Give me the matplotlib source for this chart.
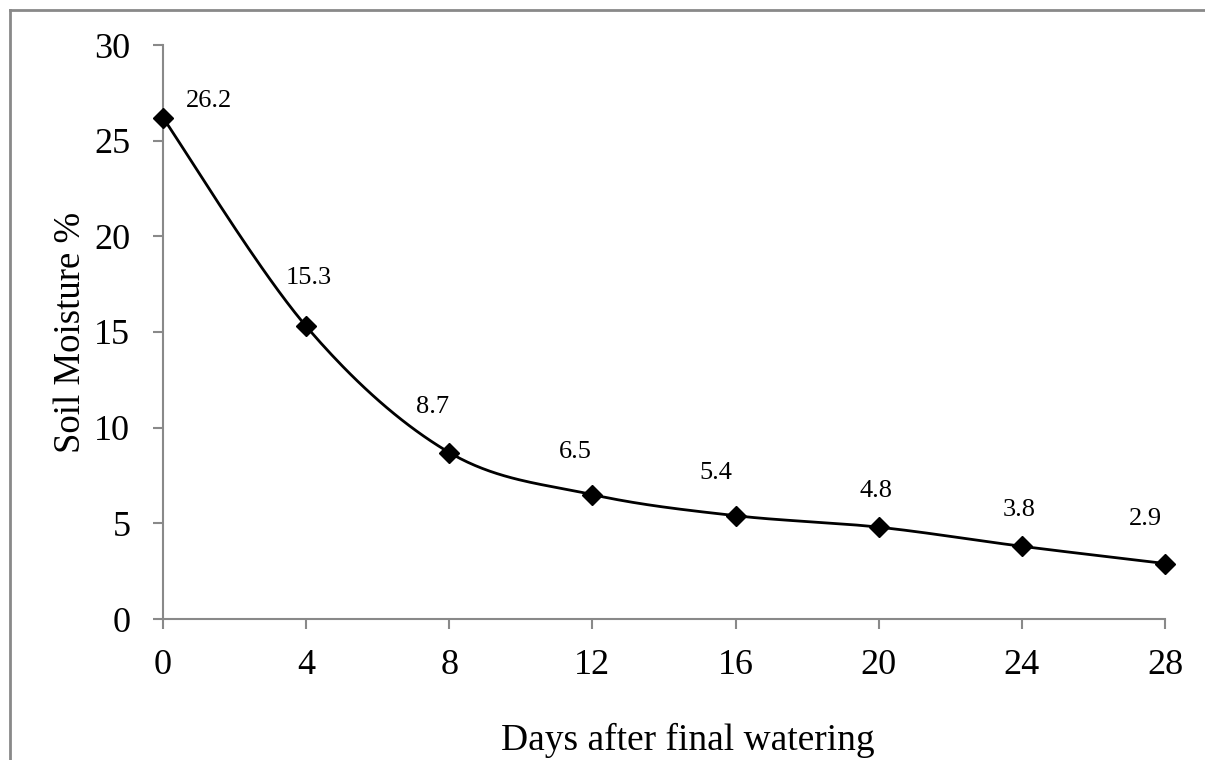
import numpy as np
import matplotlib.pyplot as plt
from matplotlib.lines import Line2D

plt.rcParams['font.family'] = ['Liberation Serif', 'DejaVu Serif']

days = [0, 4, 8, 12, 16, 20, 24, 28]
moisture = [26.2, 15.3, 8.7, 6.5, 5.4, 4.8, 3.8, 2.9]
value_labels = ["26.2", "15.3", "8.7", "6.5", "5.4", "4.8", "3.8", "2.9"]
x_ticks = [0, 4, 8, 12, 16, 20, 24, 28]
y_ticks = [0, 5, 10, 15, 20, 25, 30]

# label offsets in points (dx, dy) from each marker
label_off = [(33, 12), (2, 35), (-12, 33), (-12, 31), (-14, 31), (-2, 26), (-2, 26), (-14, 32)]

fig = plt.figure(figsize=(12.05, 7.6), dpi=100)
ax = fig.add_axes([163/1205, 141/760, 1002/1205, 574/760])

# excel style smoothed line (bezier, control points from neighbours / 6)
sx = 1002/28.0
sy = 574/30.0
P = np.column_stack([np.array(days)*sx, np.array(moisture)*sy])
n = len(P)
curve = []
t = np.linspace(0, 1, 40)
for i in range(n-1):
    p0 = P[i]
    p3 = P[i+1]
    prev = P[i-1] if i > 0 else P[i]
    nxt = P[i+2] if i+2 < n else P[i+1]
    c1 = p0 + (p3 - prev)/6.0
    c2 = p3 - (nxt - p0)/6.0
    seg = ((1-t)**3)[:, None]*p0 + (3*(1-t)**2*t)[:, None]*c1 + (3*(1-t)*t**2)[:, None]*c2 + (t**3)[:, None]*p3
    curve.append(seg)
curve = np.vstack(curve)
ax.plot(curve[:, 0]/sx, curve[:, 1]/sy, color='black', lw=2, clip_on=False, zorder=2)
ax.plot(days, moisture, linestyle='none', marker='D', color='black', ms=10, clip_on=False, zorder=3)

for xv, yv, lab, off in zip(days, moisture, value_labels, label_off):
    ax.annotate(lab, (xv, yv), xytext=off, textcoords='offset points',
                ha='center', va='center', fontsize=19)

ax.set_xlim(0, 28)
ax.set_ylim(0, 30)
ax.set_xticks(x_ticks)
ax.set_yticks(y_ticks)
ax.tick_params(axis='both', direction='out', length=7.5, width=1.5, color='#898989',
               labelsize=26)
ax.tick_params(axis='x', pad=14)
ax.tick_params(axis='y', pad=16)
for s in ['top', 'right']:
    ax.spines[s].set_visible(False)
for s in ['left', 'bottom']:
    ax.spines[s].set_color('#898989')
    ax.spines[s].set_linewidth(1.5)

ax.set_xlabel('Days after final watering', fontsize=27, va='baseline')
ax.xaxis.set_label_coords((688-163)/1002, (619-750)/574)
ax.set_ylabel('Soil Moisture %', fontsize=26.5)
ax.yaxis.set_label_coords((88-163)/1002, 0.5)

# outer chart border (left and top visible)
fig.add_artist(Line2D([10/1205, 10/1205], [0, 1 - 10/760], transform=fig.transFigure, color='#898989', lw=2))
fig.add_artist(Line2D([10/1205, 1], [1 - 10/760, 1 - 10/760], transform=fig.transFigure, color='#898989', lw=2))

fig.savefig('out.png', dpi=100)
